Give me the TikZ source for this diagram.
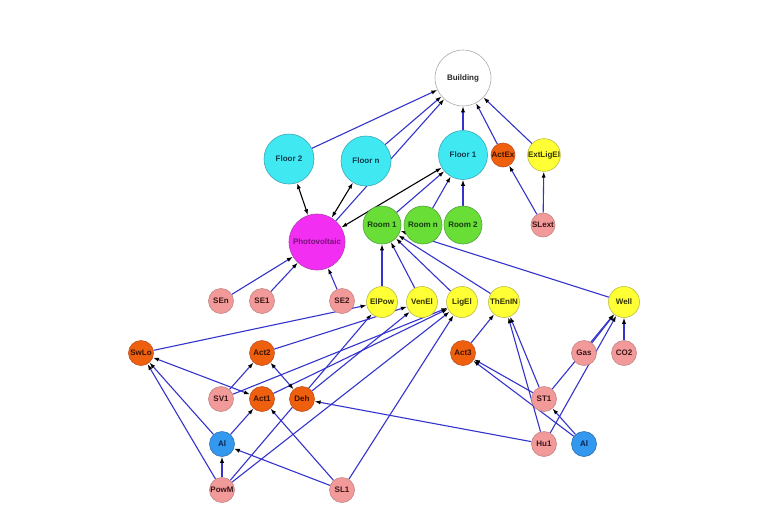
\documentclass[tikz,border=0pt]{standalone}
\usepackage{fontspec}
\newfontfamily\nf{Liberation Sans}
\usetikzlibrary{arrows.meta}
\pgfdeclarelayer{bg}
\pgfsetlayers{bg,main}
\definecolor{edgeblue}{HTML}{3434CC}
\definecolor{cyanC}{HTML}{40E8F2}\definecolor{cyanB}{HTML}{3AA8B8}\definecolor{cyanT}{HTML}{0E3B4A}
\definecolor{magC}{HTML}{F22EF2}\definecolor{magB}{HTML}{B040B0}\definecolor{magT}{HTML}{7A127A}
\definecolor{greenC}{HTML}{68DE36}\definecolor{greenB}{HTML}{55A040}\definecolor{greenT}{HTML}{173D10}
\definecolor{yelC}{HTML}{FFFF36}\definecolor{yelB}{HTML}{BDBD44}\definecolor{yelT}{HTML}{333300}
\definecolor{oraC}{HTML}{EE5F0E}\definecolor{oraB}{HTML}{C05020}\definecolor{oraT}{HTML}{3A1200}
\definecolor{pinkC}{HTML}{F29A9A}\definecolor{pinkB}{HTML}{C48484}\definecolor{pinkT}{HTML}{3A1515}
\definecolor{bluC}{HTML}{3399EE}\definecolor{bluB}{HTML}{3070B0}\definecolor{bluT}{HTML}{0A2050}
\definecolor{bldB}{HTML}{AAAAAA}
\begin{document}
\begin{tikzpicture}[x=1pt,y=-1pt,
  nd/.style={circle, inner sep=0pt, line width=0.6pt, font=\nf\bfseries\fontsize{8}{9}\selectfont},
  bld/.style={nd, fill=white, draw=bldB, text=black!85, minimum size=56pt},
  flr/.style={nd, fill=cyanC, draw=cyanB, text=cyanT, minimum size=50pt},
  pvs/.style={nd, fill=magC, draw=magB, text=magT, minimum size=56pt},
  rm/.style={nd, fill=greenC, draw=greenB, text=greenT, minimum size=38pt},
  yel/.style={nd, fill=yelC, draw=yelB, text=yelT, minimum size=31pt},
  ora/.style={nd, fill=oraC, draw=oraB, text=oraT, minimum size=25pt},
  pnk/.style={nd, fill=pinkC, draw=pinkB, text=pinkT, minimum size=25pt},
  blu/.style={nd, fill=bluC, draw=bluB, text=bluT, minimum size=25pt},
  e/.style={draw=edgeblue, line width=1.1pt, -{Latex[length=6pt,width=4.2pt,color=black]}},
  be/.style={draw=black, line width=1.1pt, {Latex[length=6pt,width=4.2pt]}-{Latex[length=6pt,width=4.2pt]}},
  eb/.style={draw=edgeblue, line width=1.1pt, {Latex[length=6pt,width=4.2pt,color=black]}-{Latex[length=6pt,width=4.2pt,color=black]}}
]
\useasboundingbox (0,0) rectangle (780,520);
% nodes
\node[bld] (building) at (463,78) {Building};
\node[flr] (floor2) at (289,159) {Floor 2};
\node[flr] (floorn) at (366,161) {Floor n};
\node[flr, minimum size=49pt] (floor1) at (463,155) {Floor 1};
\node[ora, minimum size=24pt] (actex) at (503,155) {ActEx};
\node[yel, minimum size=30pt] (extlig) at (544,155) {ExtLigEl};
\node[pvs] (pv) at (317,242) {Photovoltaic};
\node[rm] (room1) at (382,225) {Room 1};
\node[rm] (roomn) at (423,225) {Room n};
\node[rm] (room2) at (463,225) {Room 2};
\node[pnk, minimum size=24pt] (slext) at (543,225) {SLext};
\node[pnk] (sen) at (221,301) {SEn};
\node[pnk] (se1) at (262,301) {SE1};
\node[pnk] (se2) at (342,301) {SE2};
\node[yel] (elpow) at (382,302) {ElPow};
\node[yel] (venel) at (422,302) {VenEl};
\node[yel] (ligel) at (462,302) {LigEl};
\node[yel] (thenin) at (504,302) {ThEnIN};
\node[yel] (well) at (624,302) {Well};
\node[ora] (swlo) at (141,353) {SwLo};
\node[ora] (act2) at (262,353) {Act2};
\node[ora] (act3) at (463,353) {Act3};
\node[pnk] (gas) at (584,353) {Gas};
\node[pnk] (co2) at (624,353) {CO2};
\node[pnk] (sv1) at (221,399) {SV1};
\node[ora] (act1) at (262,399) {Act1};
\node[ora] (deh) at (302,399) {Deh};
\node[pnk] (st1) at (544,399) {ST1};
\node[blu] (al1) at (222,444) {Al};
\node[pnk] (hu1) at (544,444) {Hu1};
\node[blu] (al2) at (584,444) {Al};
\node[pnk] (powm) at (222,490) {PowM};
\node[pnk] (sl1) at (342,490) {SL1};
% edges
\begin{pgfonlayer}{bg}
\fill[white] (0,0) rectangle (780,520);
\draw[e] (floor2) -- (building);
\draw[e] (floorn) -- (building);
\draw[e] (pv) -- (building);
\draw[e] (floor1) -- (building);
\draw[e] (actex) -- (building);
\draw[e] (extlig) -- (building);
\draw[e] (slext) -- (actex);
\draw[e] (slext) -- (extlig);
\draw[e] (room1) -- (floor1);
\draw[e] (roomn) -- (floor1);
\draw[e] (room2) -- (floor1);
\draw[be] (pv) -- (floor2);
\draw[be] (pv) -- (floorn);
\draw[be] (pv) -- (floor1);
\draw[e] (sen) -- (pv);
\draw[e] (se1) -- (pv);
\draw[e] (se2) -- (pv);
\draw[e] (elpow) -- (room1);
\draw[e] (venel) -- (room1);
\draw[e] (ligel) -- (room1);
\draw[e] (thenin) -- (room1);
\draw[e] (well) -- (room1);
\draw[e] (swlo) -- (elpow);
\draw[e] (powm) -- (elpow);
\draw[e] (act2) -- (venel);
\draw[e] (deh) -- (venel);
\draw[e] (sv1) -- (ligel);
\draw[e] (act1) -- (ligel);
\draw[e] (powm) -- (ligel);
\draw[e] (sl1) -- (ligel);
\draw[e] (act3) -- (thenin);
\draw[e] (st1) -- (thenin);
\draw[e] (hu1) -- (thenin);
\draw[e] (gas) -- (well);
\draw[e] (st1) -- (well);
\draw[e] (hu1) -- (well);
\draw[e] (co2) -- (well);
\draw[e] (st1) -- (act3);
\draw[e] (al2) -- (act3);
\draw[e] (al2) -- (st1);
\draw[e] (hu1) -- (deh);
\draw[e] (sv1) -- (act2);
\draw[eb] (act2) -- (deh);
\draw[eb] (swlo) -- (act1);
\draw[e] (al1) -- (swlo);
\draw[e] (powm) -- (swlo);
\draw[e] (al1) -- (act1);
\draw[e] (powm) -- (al1);
\draw[e] (sl1) -- (al1);
\draw[e] (sl1) -- (act1);
\end{pgfonlayer}
\end{tikzpicture}
\end{document}
